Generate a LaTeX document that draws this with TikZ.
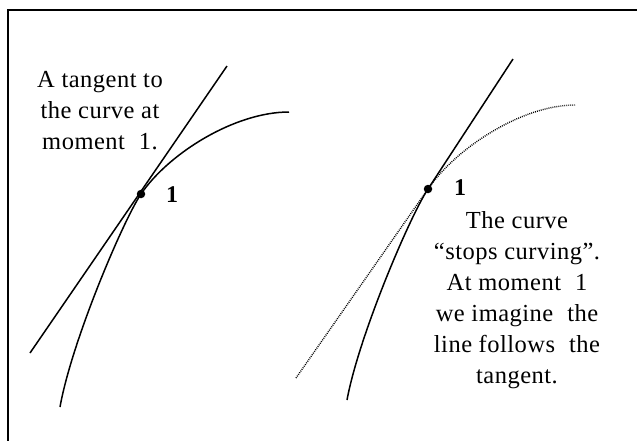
\documentclass[tikz,border=0pt]{standalone}
\usepackage{fontspec}
\setmainfont{Liberation Serif}
\newfontfamily\captionfont[LetterSpace=2]{Liberation Serif}
\begin{document}
\begin{tikzpicture}[x=1pt,y=-1pt,
  curve/.style={line width=1.5pt},
  dotcurve/.style={line width=1.4pt, dash pattern=on 0.9pt off 1.1pt},
  pointdot/.style={circle, fill=black, inner sep=0pt, minimum size=8.5pt},
  numlab/.style={font=\fontsize{24}{28}\selectfont\bfseries, inner sep=0pt},
  caption/.style={font=\captionfont\fontsize{24.5}{31}\selectfont, align=center, inner sep=0pt}]
\useasboundingbox (0,0) rectangle (637,440);
\draw[line width=2pt] (8,441) -- (8,9.5) -- (638,9.5);

% left figure
\coordinate (lp) at (141,194);
\coordinate (lcb) at (60,407);
\coordinate (lct) at (289,112);
\coordinate (ltb) at (30,353);
\coordinate (ltt) at (227,66);
\draw[curve] (ltb) -- (ltt);
\draw[curve] (lcb) .. controls (72,340) and (124,219) .. (lp)
  .. controls (169,153) and (235,112) .. (lct);
\node[pointdot] (ld) at (lp) {};
\node[numlab] (l1) at (172,195) {1};
\node[caption] (ltext) at (100,111) {A tangent to\\the curve at\\moment\hspace{0.3em} 1.};

% right figure
\coordinate (rp) at (428,189);
\coordinate (rcb) at (347,400);
\coordinate (rct) at (575,105);
\coordinate (rtb) at (296,378);
\coordinate (rtt) at (513,59);
\draw[dotcurve] (rtb) -- (rp);
\draw[dotcurve] (rp) .. controls (456,148) and (522,105) .. (rct);
\draw[curve] (rcb) .. controls (359,335) and (411,214) .. (rp);
\draw[curve] (rp) -- (rtt);
\node[pointdot] (rd) at (rp) {};
\node[numlab] (r1) at (460,188) {1};
\node[caption] (rtext) at (517,300) {The curve\\“stops curving”.\\At moment\hspace{0.3em} 1\\we imagine\hspace{0.3em} the\\line follows\hspace{0.3em} the\\tangent.};
\end{tikzpicture}
\end{document}
